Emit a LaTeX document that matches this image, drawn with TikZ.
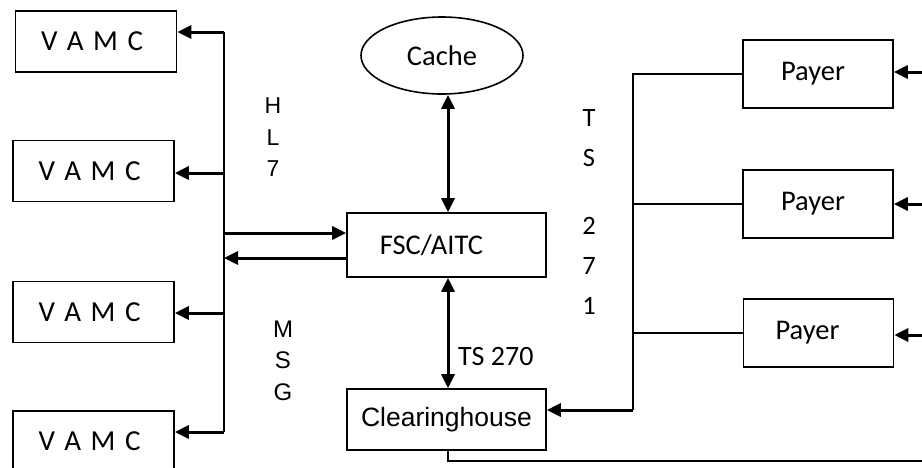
\documentclass[tikz,border=0pt]{standalone}
\usepackage{fontspec}
\usepackage{graphicx}
\setmainfont{Carlito}
\newfontfamily\arialf{Liberation Sans}
\usetikzlibrary{arrows.meta,shapes.geometric}
\newcommand\vamctext{\makebox[0pt]{\hspace{-8pt}\raisebox{-2pt}{V\hspace{9.5pt}A\hspace{9.5pt}M\hspace{9.5pt}C}}}
\begin{document}
\begin{tikzpicture}[x=1pt,y=-1pt,
  box/.style={draw, line width=1.6pt, rectangle, inner sep=0pt, anchor=center},
  vbox/.style={box, minimum width=161pt, minimum height=61pt, font=\fontsize{29}{34}\selectfont},
  pbox/.style={box, minimum width=150pt, minimum height=68pt, font=\fontsize{28.5}{34}\selectfont},
  conn/.style={line width=1.6pt},
  arr/.style={line width=3pt, -{Triangle[length=14pt,width=13pt]}},
  darr/.style={line width=3pt, {Triangle[length=14pt,width=13pt]}-{Triangle[length=14pt,width=13pt]}},
  vlab/.style={align=center, inner sep=0pt},
]
\useasboundingbox (0,0) rectangle (922,467);
\clip (0,0) rectangle (922,467);

% VAMC boxes
\node[vbox] (v1) at (96,41.5) {\vamctext};
\node[vbox] (v2) at (93.5,171) {\vamctext};
\node[vbox] (v3) at (93.5,312) {\vamctext};
\node[vbox] (v4) at (93.5,441.5) {\vamctext};

% central nodes
\node[draw, ellipse, line width=1.6pt, minimum width=162pt, minimum height=77pt, inner sep=0pt,
      font=\fontsize{28.5}{34}\selectfont] (cache) at (442,55.5) {\raisebox{-5pt}{Cache}};
\node[box, minimum width=199pt, minimum height=64pt, font=\fontsize{28.5}{34}\selectfont]
      (fsc) at (446.5,245) {\makebox[0pt]{\hspace{-30pt}FSC/AITC}};
\node[box, minimum width=199pt, minimum height=61pt, font=\arialf\fontsize{26.5}{31}\selectfont]
      (ch) at (446.5,419.5) {Clearinghouse};

% payers
\node[pbox] (p1) at (818,74) {\makebox[0pt]{\hspace{-10pt}Payer}};
\node[pbox] (p2) at (818,204) {\makebox[0pt]{\hspace{-10pt}Payer}};
\node[pbox] (p3) at (818.5,333) {\makebox[0pt]{\hspace{-22pt}Payer}};

% labels
\node[vlab, font=\arialf\fontsize{23}{31.5}\selectfont] (hl7) at (273,137.5) {H\\L\\7};
\node[vlab, font=\arialf\fontsize{24}{31.5}\selectfont] (msg) at (283,360.5) {M\\S\\G};
\node[vlab, font=\fontsize{26.5}{40}\selectfont] (ts271) at (589,212) {T\\S\\[28pt]2\\7\\1};
\node[inner sep=0pt, anchor=west, font=\fontsize{28}{34}\selectfont] (ts270) at (458,357) {TS 270};

% left bus
\coordinate (lbt) at (224,32);
\coordinate (lb2) at (224,173);
\coordinate (lb3) at (224,313);
\coordinate (lbb) at (224,432);
\coordinate (f1) at (224,233);
\coordinate (f2) at (224,258);
\draw[conn] (lbt) -- (lbb);
\draw[arr] (lbt) -- (lbt -| v1.east);
\draw[arr] (lb2) -- (lb2 -| v2.east);
\draw[arr] (lb3) -- (lb3 -| v3.east);
\draw[arr] (lbb) -- (lbb -| v4.east);
\draw[arr] (f1) -- (f1 -| fsc.west);
\draw[arr] (f2 -| fsc.west) -- (f2);

% vertical double arrows
\coordinate (cx) at (448,0);
\draw[darr] (cx |- cache.south) -- (cx |- fsc.north);
\draw[darr] (cx |- fsc.south) -- (cx |- ch.north);

% right bus
\coordinate (rbb) at (633,410);
\draw[conn] (p1.west) -- (p1.west -| rbb) -- (rbb);
\draw[conn] (p2.west) -- (p2.west -| rbb);
\draw[conn] (p3.west) -- (p3.west -| rbb);
\draw[arr] (rbb) -- (rbb -| ch.east);

% incoming arrows from right edge
\coordinate (re) at (935,0);
\draw[arr] (re |- 0,72) -- (p1.east |- 0,72);
\draw[arr] (re |- p2.east) -- (p2.east);
\draw[arr] (re |- 0,335) -- (p3.east |- 0,335);

% bottom return line
\coordinate (bl) at (935,461);
\draw[conn] (cx |- ch.south) |- (bl);
\end{tikzpicture}
\end{document}
